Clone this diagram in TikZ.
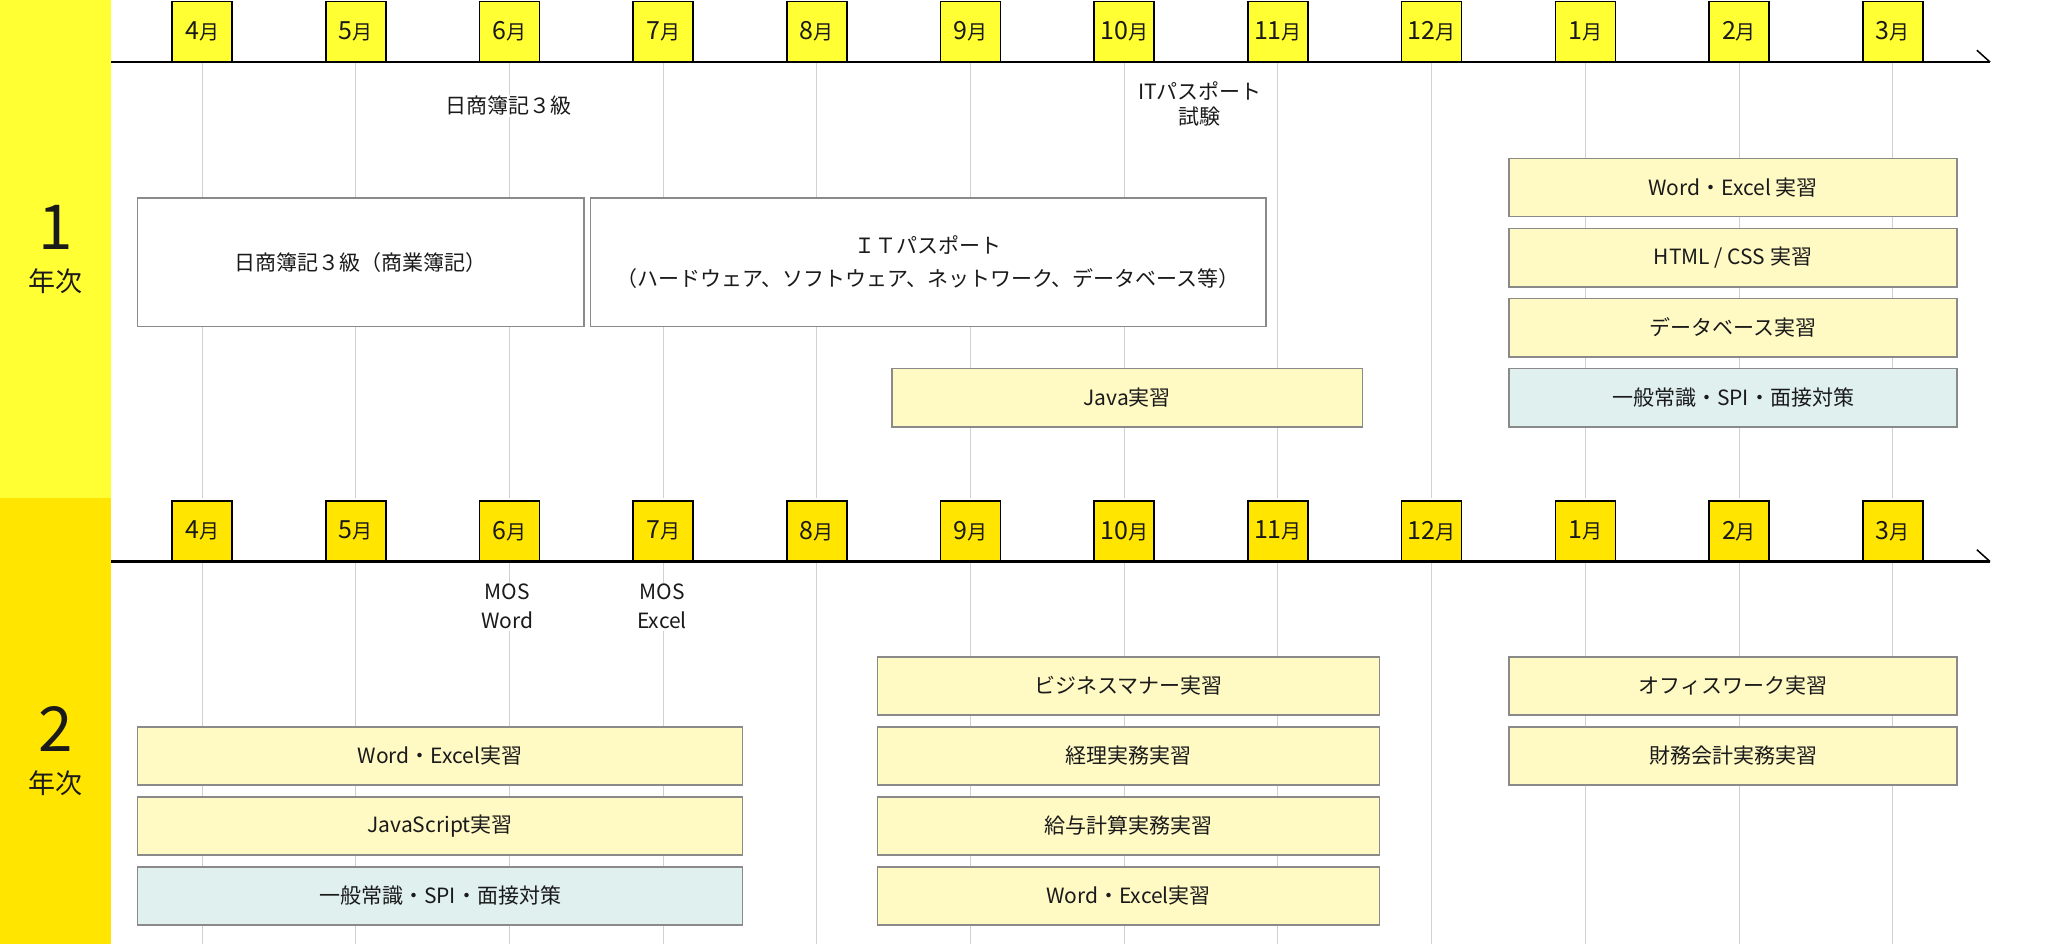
\documentclass[tikz,border=0pt]{standalone}
\usepackage{fontspec}
\setmainfont{Noto Sans CJK JP}
\pgfdeclarelayer{bg}
\pgfsetlayers{bg,main}
\definecolor{bandA}{HTML}{FFFF33}
\definecolor{bandB}{HTML}{FFE500}
\definecolor{pale}{HTML}{FFF9C4}
\definecolor{paleblue}{HTML}{E0F0EF}
\definecolor{gridgray}{HTML}{D0D0D0}
\definecolor{boxgray}{HTML}{8A8A8A}
\definecolor{ink}{HTML}{1A1A1A}
\newcommand\mon[1]{{\fontsize{25}{25}\selectfont #1}{\fontsize{20}{20}\selectfont 月}}
\newcommand\tbx[7]{%
  \pgfmathsetmacro\bw{(#5-#3)*1.3214}%
  \pgfmathsetmacro\bh{(#6-#4)*1.3214}%
  \node[tb,#2,minimum width=\bw pt,minimum height=\bh pt] (#1) at ({(#3+#5)/2},{(#4+#6)/2}) {#7};}
\begin{document}
\begin{tikzpicture}[x=1.3214pt,y=-1.3214pt,
  every node/.style={font=\fontsize{21}{29}\selectfont, text=ink},
  monthbox/.style={draw=black, line width=1.6pt, minimum width=60pt, minimum height=60pt, inner sep=0pt, anchor=south},
  tb/.style={draw=boxgray, line width=1.5pt, inner sep=0pt, align=center},
  gridline/.style={draw=gridgray, line width=1pt},
  axis/.style={draw=black, line width=2.5pt},
  lbl/.style={fill=white, inner sep=1.5pt, align=center}]
\useasboundingbox (0,0) rectangle (1568,714);
% bands
\begin{pgfonlayer}{bg}
\fill[white] (0,0) rectangle (1568,714);
\fill[bandA] (0,0) rectangle (84,377);
\fill[bandB] (0,377) rectangle (84,714);
\end{pgfonlayer}
\node (y1num) at (42,172) {\fontsize{62}{62}\selectfont 1};
\node (y1txt) at (42,213) {\fontsize{27}{27}\selectfont 年次};
\node (y2num) at (42,552) {\fontsize{62}{62}\selectfont 2};
\node (y2txt) at (42,593) {\fontsize{27}{27}\selectfont 年次};
% axes
\coordinate (a1s) at (84,47);
\coordinate (a1e) at (1506,47);
\coordinate (a1t) at (1496,38);
\coordinate (a2s) at (84,425);
\coordinate (a2e) at (1506,425);
\coordinate (a2t) at (1496,416);
\draw[axis] (a1s) -- (a1e);
\draw[line width=1.5pt] (a1e) -- (a1t);
\draw[axis] (a2s) -- (a2e);
\draw[line width=1.5pt] (a2e) -- (a2t);
% months
\foreach \i/\m/\x in {1/4/153,2/5/269.3,3/6/385.6,4/7/501.9,5/8/618.2,6/9/734.5,7/10/850.8,8/11/967.1,9/12/1083.4,10/1/1199.7,11/2/1316,12/3/1432.3}{
  \node[monthbox, fill=bandA] (ma\i) at (\x,47) {\mon{\m}};
  \node[monthbox, fill=bandB] (mb\i) at (\x,425) {\mon{\m}};
  \coordinate (ea\i) at (\x,377);
  \coordinate (eb\i) at (\x,714);
  \begin{pgfonlayer}{bg}
  \draw[gridline] (ma\i.south) -- (ea\i);
  \draw[gridline] (mb\i.south) -- (eb\i);
  \end{pgfonlayer}
}
% year 1 labels
\node[lbl] (l1) at (385,80) {日商簿記３級};
\node[lbl, font=\fontsize{21}{25}\selectfont] (l2) at (908,79) {ITパスポート\\試験};
% year 1 boxes
\tbx{b1}{fill=white}{104}{150}{442}{247}{日商簿記３級（商業簿記）}
\tbx{b2}{fill=white, font=\fontsize{21}{33}\selectfont}{447}{150}{958}{247}{ＩＴパスポート\\（ハードウェア、ソフトウェア、ネットワーク、データベース等）}
\tbx{b3}{fill=pale}{675}{279}{1031}{323}{Java実習}
\tbx{b4}{fill=pale}{1142}{120}{1481}{164}{Word・Excel 実習}
\tbx{b5}{fill=pale}{1142}{173}{1481}{217}{HTML / CSS 実習}
\tbx{b6}{fill=pale}{1142}{226}{1481}{270}{データベース実習}
\tbx{b7}{fill=paleblue}{1142}{279}{1481}{323}{一般常識・SPI・面接対策}
% year 2 labels
\node[lbl] (l3) at (384,459) {MOS\\Word};
\node[lbl] (l4) at (501,459) {MOS\\Excel};
% year 2 boxes
\tbx{c1}{fill=pale}{104}{550}{562}{594}{Word・Excel実習}
\tbx{c2}{fill=pale}{104}{603}{562}{647}{JavaScript実習}
\tbx{c3}{fill=paleblue}{104}{656}{562}{700}{一般常識・SPI・面接対策}
\tbx{c4}{fill=pale}{664}{497}{1044}{541}{ビジネスマナー実習}
\tbx{c5}{fill=pale}{664}{550}{1044}{594}{経理実務実習}
\tbx{c6}{fill=pale}{664}{603}{1044}{647}{給与計算実務実習}
\tbx{c7}{fill=pale}{664}{656}{1044}{700}{Word・Excel実習}
\tbx{c8}{fill=pale}{1142}{497}{1481}{541}{オフィスワーク実習}
\tbx{c9}{fill=pale}{1142}{550}{1481}{594}{財務会計実務実習}
\end{tikzpicture}
\end{document}
